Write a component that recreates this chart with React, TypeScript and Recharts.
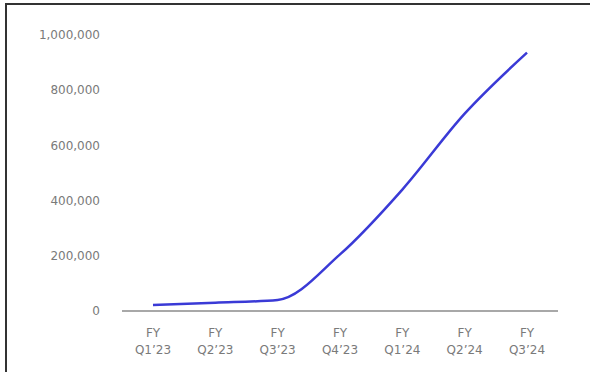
import React from "react";
import { LineChart, Line, XAxis, YAxis } from "recharts";

const categories = ["FY Q1’23", "FY Q2’23", "FY Q3’23", "FY Q4’23", "FY Q1’24", "FY Q2’24", "FY Q3’24"];
const values = [22000, 30000, 40000, 205000, 440000, 715000, 936000];
const yTicks = [0, 200000, 400000, 600000, 800000, 1000000];

const data = categories.map((c, i) => ({ name: c, value: values[i] }));

const FONT = "'DejaVu Sans', sans-serif";

const XTick = (props: any) => {
  const { x, y, payload } = props;
  const parts = String(payload.value).split(" ");
  return (
    <text x={x} y={y} textAnchor="middle" fill="#7a7a7a" fontSize={12} fontFamily={FONT}>
      <tspan x={x} dy={18}>{parts[0]}</tspan>
      <tspan x={x} dy={17}>{parts[1]}</tspan>
    </text>
  );
};

export default function App() {
  return (
    <div style={{ position: "absolute", left: 0, top: 0, width: 590, height: 372, overflow: "hidden", background: "#fff" }}>
      <div
        style={{
          position: "absolute",
          left: 5,
          top: 3,
          width: 700,
          height: 500,
          borderLeft: "2px solid #333",
          borderTop: "2px solid #333",
          boxSizing: "border-box",
        }}
      />
      <div style={{ position: "absolute", left: 0, top: 0 }}>
        <LineChart width={590} height={372} data={data} margin={{ top: 35, right: 32, bottom: 0, left: 0 }}>
          <XAxis
            dataKey="name"
            height={61}
            padding={{ left: 31, right: 31 }}
            axisLine={{ stroke: "#a8a8a8", strokeWidth: 2 }}
            tickLine={false}
            tickSize={0}
            tickMargin={8}
            interval={0}
            tick={<XTick />}
          />
          <YAxis
            width={122}
            domain={[0, 1000000]}
            ticks={yTicks}
            axisLine={false}
            tickLine={false}
            tickSize={0}
            tickMargin={22}
            tick={{ fill: "#7a7a7a", fontSize: 12, fontFamily: FONT }}
            tickFormatter={(v: number) => v.toLocaleString("en-US")}
          />
          <Line
            type="monotone"
            dataKey="value"
            stroke="#3a3ad6"
            strokeWidth={2.5}
            dot={false}
            isAnimationActive={false}
          />
        </LineChart>
      </div>
    </div>
  );
}
